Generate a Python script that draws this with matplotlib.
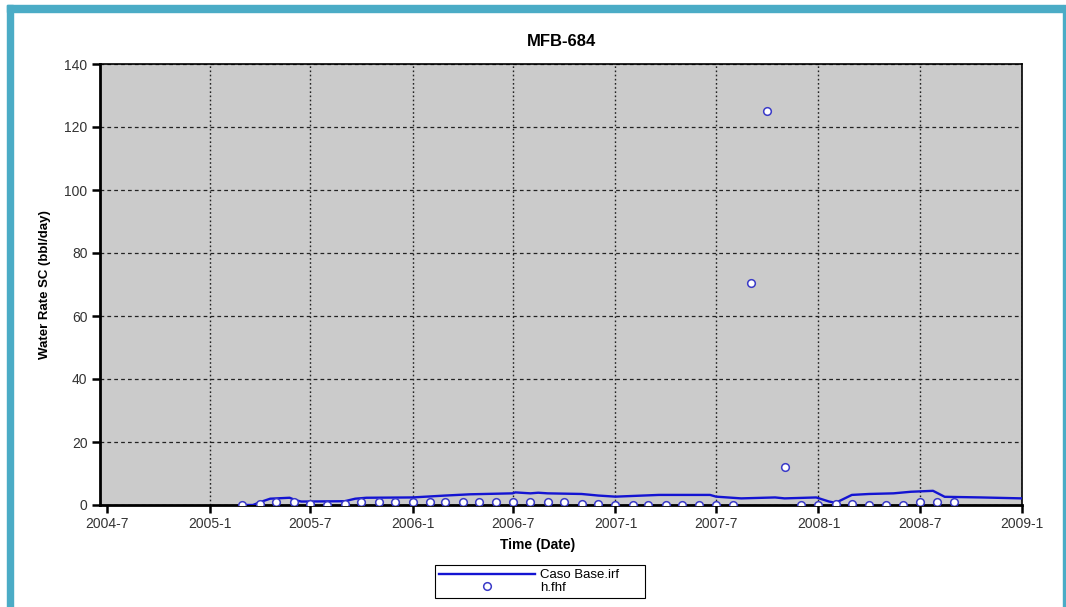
import numpy as np
import pandas as pd
import matplotlib.pyplot as plt
import matplotlib.dates as mdates
from matplotlib.patches import Rectangle

# simulated curve (Caso Base.irf)
sim_dates = ['2005-03-01','2005-03-20','2005-04-05','2005-04-20','2005-05-25','2005-06-05',
	'2005-06-15','2005-09-01','2005-09-20','2005-10-10','2006-01-01','2006-03-01',
	'2006-04-15','2006-06-30','2006-07-05','2006-08-01','2006-08-15','2006-09-01',
	'2006-11-01','2006-12-01','2007-01-01','2007-03-20','2007-06-20','2007-07-01',
	'2007-08-15','2007-10-15','2007-11-01','2007-12-28','2008-01-20','2008-02-01',
	'2008-03-01','2008-04-01','2008-05-15','2008-06-15','2008-07-25','2008-08-15',
	'2008-10-20','2009-01-01']
sim_rate = [0.0,0.0,1.1,2.0,2.3,1.5,
	1.1,1.2,2.0,2.3,2.4,3.0,
	3.4,3.7,4.0,3.7,3.9,3.7,
	3.5,3.0,2.65,3.2,3.2,2.65,
	2.1,2.4,2.1,2.4,1.1,0.7,
	3.2,3.5,3.7,4.2,4.5,2.6,
	2.4,2.1]

# history points (h.fhf), monthly
hist_dates = pd.date_range('2005-03-01','2008-09-01',freq='MS')
hist_rate = [0.1,0.3,0.8,0.8,0.3,0.1,0.3,0.9,0.9,0.9,
	0.9,0.9,0.9,0.9,0.9,0.9,0.9,0.9,0.9,0.9,
	0.3,0.2,0.1,0.1,0.1,0.1,0.1,0.1,0.1,0.1,
	70.5,125.0,12.1,0.1,0.1,0.3,0.3,0.1,0.1,0.1,
	0.8,0.8,1.0]

xtick_dates = ['2004-07-01','2005-01-01','2005-07-01','2006-01-01','2006-07-01',
	'2007-01-01','2007-07-01','2008-01-01','2008-07-01','2009-01-01']
xtick_labels = ['2004-7','2005-1','2005-7','2006-1','2006-7',
	'2007-1','2007-7','2008-1','2008-7','2009-1']
yticks = [0,20,40,60,80,100,120,140]

plt.rcParams['font.family'] = ['Liberation Sans','DejaVu Sans']

fig = plt.figure(figsize=(10.66,6.07),dpi=100)
W,H = 1066.,607.
ax = fig.add_axes([100/W,1-505/H,922/W,441/H])
ax.set_facecolor('#cbcbcb')

teal = '#4bacc6'
fig.patches.append(Rectangle((7/W,0),6/W,1-5/H,transform=fig.transFigure,color=teal,zorder=0))
fig.patches.append(Rectangle((7/W,1-12/H),1056/W,7/H,transform=fig.transFigure,color=teal,zorder=0))
fig.patches.append(Rectangle((1063/W,0),3/W,1-5/H,transform=fig.transFigure,color=teal,zorder=0))

sd = pd.to_datetime(sim_dates)
ax.plot(sd,sim_rate,color='#1414d2',lw=1.7,label='Caso Base.irf',zorder=3)
ax.plot(hist_dates,hist_rate,ls='none',marker='o',ms=5.5,mfc='white',mec='#3a3ac8',mew=1.1,
	label='h.fhf',zorder=4)

xt = pd.to_datetime(xtick_dates)
ax.set_xticks(xt)
ax.set_xticklabels(xtick_labels)
ax.set_xlim(pd.Timestamp('2004-06-18'),pd.Timestamp('2009-01-01'))
ax.set_ylim(0,140)
ax.set_yticks(yticks)

ax.xaxis.grid(True,color='#222222',ls=(0,(1.2,1.8)),lw=1)
ax.yaxis.grid(True,color='#222222',ls=(0,(3,2.5)),lw=0.9)
ax.xaxis.get_gridlines()[0].set_visible(False)
ax.set_axisbelow(True)

for s in ['left','bottom']:
	ax.spines[s].set_linewidth(2)
for s in ['top','right']:
	ax.spines[s].set_linewidth(1.2)
ax.tick_params(direction='out',length=6,width=1.8,labelsize=10,labelcolor='#333333',pad=3)

ax.set_title('MFB-684',fontsize=12,fontweight='bold',pad=13)
fig.text(538/W,1-545/H,'Time (Date)',ha='center',va='center',fontsize=10,fontweight='bold')
fig.text(45/W,1-285/H,'Water Rate SC (bbl/day)',ha='center',va='center',rotation=90,
	fontsize=9.5,fontweight='bold')

leg = ax.legend(loc='center',bbox_to_anchor=(428/W,1-600/H,224/W,37/H),mode='expand',
	bbox_transform=fig.transFigure,fancybox=False,edgecolor='black',framealpha=1,
	fontsize=9.5,handlelength=7.3,labelspacing=0.05,borderpad=0.3,handletextpad=0.4)
leg.get_frame().set_linewidth(0.8)

fig.savefig('out.png',dpi=100)
